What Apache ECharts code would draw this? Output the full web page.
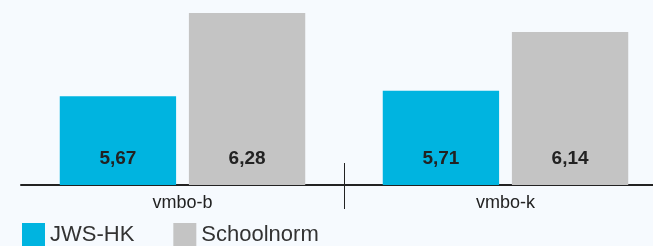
<!DOCTYPE html>
<html>
<head>
<meta charset="utf-8">
<script src="https://cdn.jsdelivr.net/npm/echarts@6/dist/echarts.min.js"></script>
<style>
  html, body { margin: 0; padding: 0; background: #f6fafe; }
  #chart { width: 653px; height: 246px; }
</style>
</head>
<body>
<div id="chart"></div>
<script>
const categories = ["vmbo-b", "vmbo-k"];
const jwsHk = [5.67, 5.71];
const schoolnorm = [6.28, 6.14];

const chart = echarts.init(document.getElementById("chart"));
const font = "Liberation Sans, Arial, Helvetica, sans-serif";
const fmt = (p) => p.value.toFixed(2).replace(".", ",");

const valueLabel = {
  show: true,
  position: "insideBottom",
  distance: 17,
  formatter: fmt,
  fontFamily: font,
  fontSize: 19,
  fontWeight: "bold",
  color: "#222"
};

// divider tick between the two groups, drawn on hidden value axes spanning the categories
const dividerAxis = (inside, length) => ({
  type: "value",
  min: 0,
  max: categories.length,
  position: "bottom",
  axisLine: { show: false },
  axisLabel: { show: false },
  splitLine: { show: false },
  axisTick: { show: true, inside: inside, length: length, customValues: [1], lineStyle: { color: "#222", width: 1 } }
});

chart.setOption({
  backgroundColor: "#f6fafe",
  animation: false,
  grid: { left: 21, top: 0, width: 646, height: 185, outerBoundsMode: "none", containLabel: false },
  legend: {
    left: 22,
    top: 223,
    padding: 0,
    itemWidth: 23,
    itemHeight: 24,
    itemGap: 39,
    icon: "rect",
    textStyle: { fontFamily: font, fontSize: 22, color: "#333" },
    data: ["JWS-HK", "Schoolnorm"]
  },
  xAxis: [
    {
      type: "category",
      data: categories,
      position: "bottom",
      axisLine: { show: true, lineStyle: { color: "#222", width: 2 } },
      axisTick: { show: false },
      axisLabel: { fontFamily: font, fontSize: 18, color: "#222", margin: 9 }
    },
    dividerAxis(false, 24),
    dividerAxis(true, 22)
  ],
  yAxis: {
    type: "value",
    min: 5.02,
    max: 6.375,
    show: false
  },
  series: [
    {
      name: "JWS-HK",
      type: "bar",
      data: jwsHk,
      itemStyle: { color: "#00b4e0" },
      barGap: "11%",
      barCategoryGap: "24%",
      label: valueLabel
    },
    {
      name: "Schoolnorm",
      type: "bar",
      data: schoolnorm,
      itemStyle: { color: "#c4c4c4" },
      label: valueLabel
    }
  ]
});
</script>
</body>
</html>
